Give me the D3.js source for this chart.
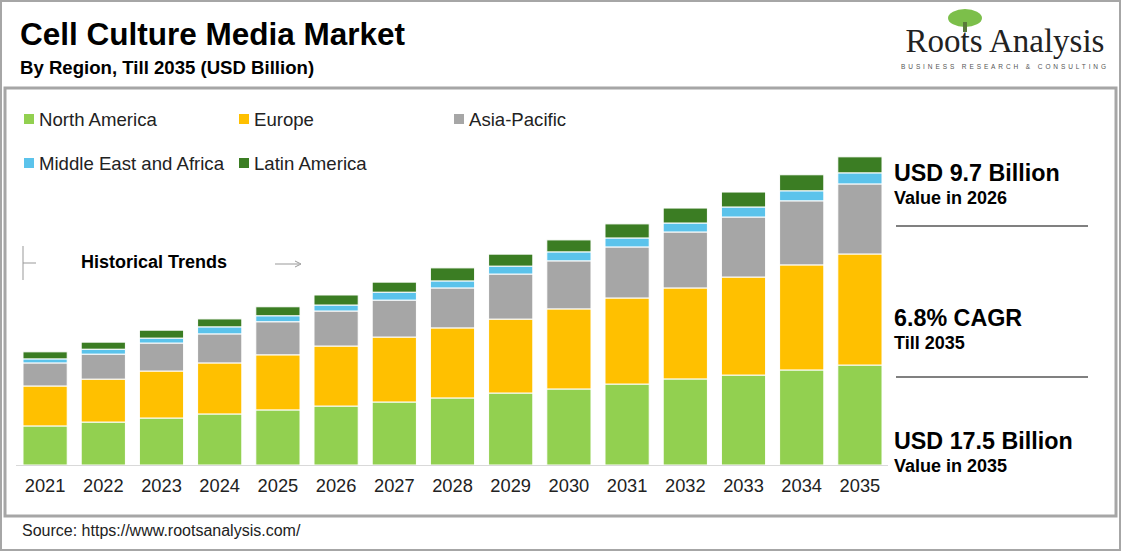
<!DOCTYPE html><html><head><meta charset="utf-8"><script src="https://cdn.jsdelivr.net/npm/d3@7"></script>
<style>body{margin:0;background:#fff}svg{font-family:Arial,"Liberation Sans",sans-serif}</style></head><body><svg id="c" width="1121" height="551"></svg>
<script>
const years=["2021","2022","2023","2024","2025","2026","2027","2028","2029","2030","2031","2032","2033","2034","2035"];
const seriesNames=["North America","Europe","Asia-Pacific","Middle East and Africa","Latin America"];
const colors=["#92d050","#ffc000","#a6a6a6","#5bc3eb","#3b7d23"];
const northAmerica=[2.22,2.44,2.67,2.90,3.13,3.35,3.58,3.81,4.09,4.32,4.60,4.89,5.11,5.40,5.68];
const europe=[2.27,2.44,2.67,2.90,3.13,3.41,3.69,3.98,4.20,4.55,4.89,5.17,5.57,5.97,6.31];
const asiaPacific=[1.31,1.42,1.59,1.65,1.88,1.99,2.10,2.27,2.56,2.73,2.90,3.18,3.41,3.64,3.98];
const mea=[0.23,0.28,0.28,0.40,0.34,0.34,0.45,0.40,0.45,0.51,0.51,0.51,0.57,0.57,0.63];
const latinAmerica=[0.40,0.40,0.45,0.45,0.51,0.57,0.57,0.74,0.68,0.68,0.80,0.85,0.85,0.91,0.91];
const svg=d3.select("#c");
svg.append("rect").attr("x",1).attr("y",1).attr("width",1119).attr("height",549).attr("fill","none").attr("stroke","#a6a6a6").attr("stroke-width",2);
svg.append("rect").attr("x",5).attr("y",88).attr("width",1111).attr("height",428).attr("fill","none").attr("stroke","#a6a6a6").attr("stroke-width",3);
svg.append("text").attr("x",20).attr("y",45).attr("font-size",31.5).attr("font-weight","bold").text("Cell Culture Media Market");
svg.append("text").attr("x",20).attr("y",74).attr("font-size",18.6).attr("font-weight","bold").text("By Region, Till 2035 (USD Billion)");
const lg=svg.append("g");
lg.append("ellipse").attr("cx",965).attr("cy",18).attr("rx",17).attr("ry",9).attr("fill","#7cbf4a");
lg.append("rect").attr("x",963).attr("y",22).attr("width",4).attr("height",10).attr("fill","#5a7a3a");
lg.append("text").attr("x",1005).attr("y",52).attr("text-anchor","middle").attr("font-family","'Liberation Serif','DejaVu Serif',serif").attr("font-size",33).attr("fill","#222").text("Roots Analysis");
lg.append("text").attr("x",1005).attr("y",69).attr("text-anchor","middle").attr("font-size",6.5).attr("letter-spacing",2.9).attr("fill","#555").text("BUSINESS RESEARCH & CONSULTING");
const leg=[[24,120],[239,120],[454,120],[24,164],[239,164]];
seriesNames.forEach((n,i)=>{svg.append("rect").attr("x",leg[i][0]).attr("y",leg[i][1]-6).attr("width",10).attr("height",10).attr("fill",colors[i]);
svg.append("text").attr("x",leg[i][0]+15).attr("y",leg[i][1]+6).attr("font-size",18.6).attr("fill","#222").text(n);});
const x=d3.scaleBand().domain(years).range([16,889]).paddingInner(0.24).paddingOuter(0.12);
const y=d3.scaleLinear().domain([0,17.5]).range([465,157]);
const data=years.map((yr,i)=>({year:yr,s0:northAmerica[i],s1:europe[i],s2:asiaPacific[i],s3:mea[i],s4:latinAmerica[i]}));
const stack=d3.stack().keys(["s0","s1","s2","s3","s4"])(data);
svg.append("g").selectAll("g").data(stack).join("g").attr("fill",(d,i)=>colors[i]).selectAll("rect").data(d=>d).join("rect")
.attr("x",d=>x(d.data.year)).attr("width",x.bandwidth()).attr("y",d=>y(d[1])).attr("height",d=>y(d[0])-y(d[1])).attr("stroke","#fff").attr("stroke-width",1);
svg.append("line").attr("x1",16).attr("x2",888).attr("y1",465.5).attr("y2",465.5).attr("stroke","#d9d9d9");
const ax=svg.append("g").attr("transform","translate(0,466)").call(d3.axisBottom(x).tickSize(0).tickPadding(13));
ax.select(".domain").remove();ax.selectAll("text").attr("font-size",18.3).attr("fill","#222").attr("font-family","Arial,'Liberation Sans',sans-serif");
svg.append("line").attr("x1",23).attr("x2",23).attr("y1",246).attr("y2",280).attr("stroke","#999");
svg.append("line").attr("x1",23).attr("x2",36).attr("y1",263).attr("y2",263).attr("stroke","#999");
svg.append("text").attr("x",81).attr("y",268).attr("font-size",18).attr("font-weight","bold").text("Historical Trends");
svg.append("line").attr("x1",275).attr("x2",299).attr("y1",264).attr("y2",264).attr("stroke","#999");
svg.append("path").attr("d","M295,261 L301,264 L295,267").attr("fill","none").attr("stroke","#999");
const rp=[["USD 9.7 Billion","Value in 2026",181,204],["6.8% CAGR","Till 2035",326,349],["USD 17.5 Billion","Value in 2035",449,472]];
rp.forEach(r=>{svg.append("text").attr("x",894).attr("y",r[2]).attr("font-size",23.3).attr("font-weight","bold").text(r[0]);
svg.append("text").attr("x",894).attr("y",r[3]).attr("font-size",18).attr("font-weight","bold").text(r[1]);});
[226,377].forEach(v=>svg.append("line").attr("x1",896).attr("x2",1088).attr("y1",v).attr("y2",v).attr("stroke","#808080").attr("stroke-width",2));
svg.append("text").attr("x",22).attr("y",536).attr("font-size",16).attr("fill","#222").text("Source: https://www.rootsanalysis.com/");
</script></body></html>
